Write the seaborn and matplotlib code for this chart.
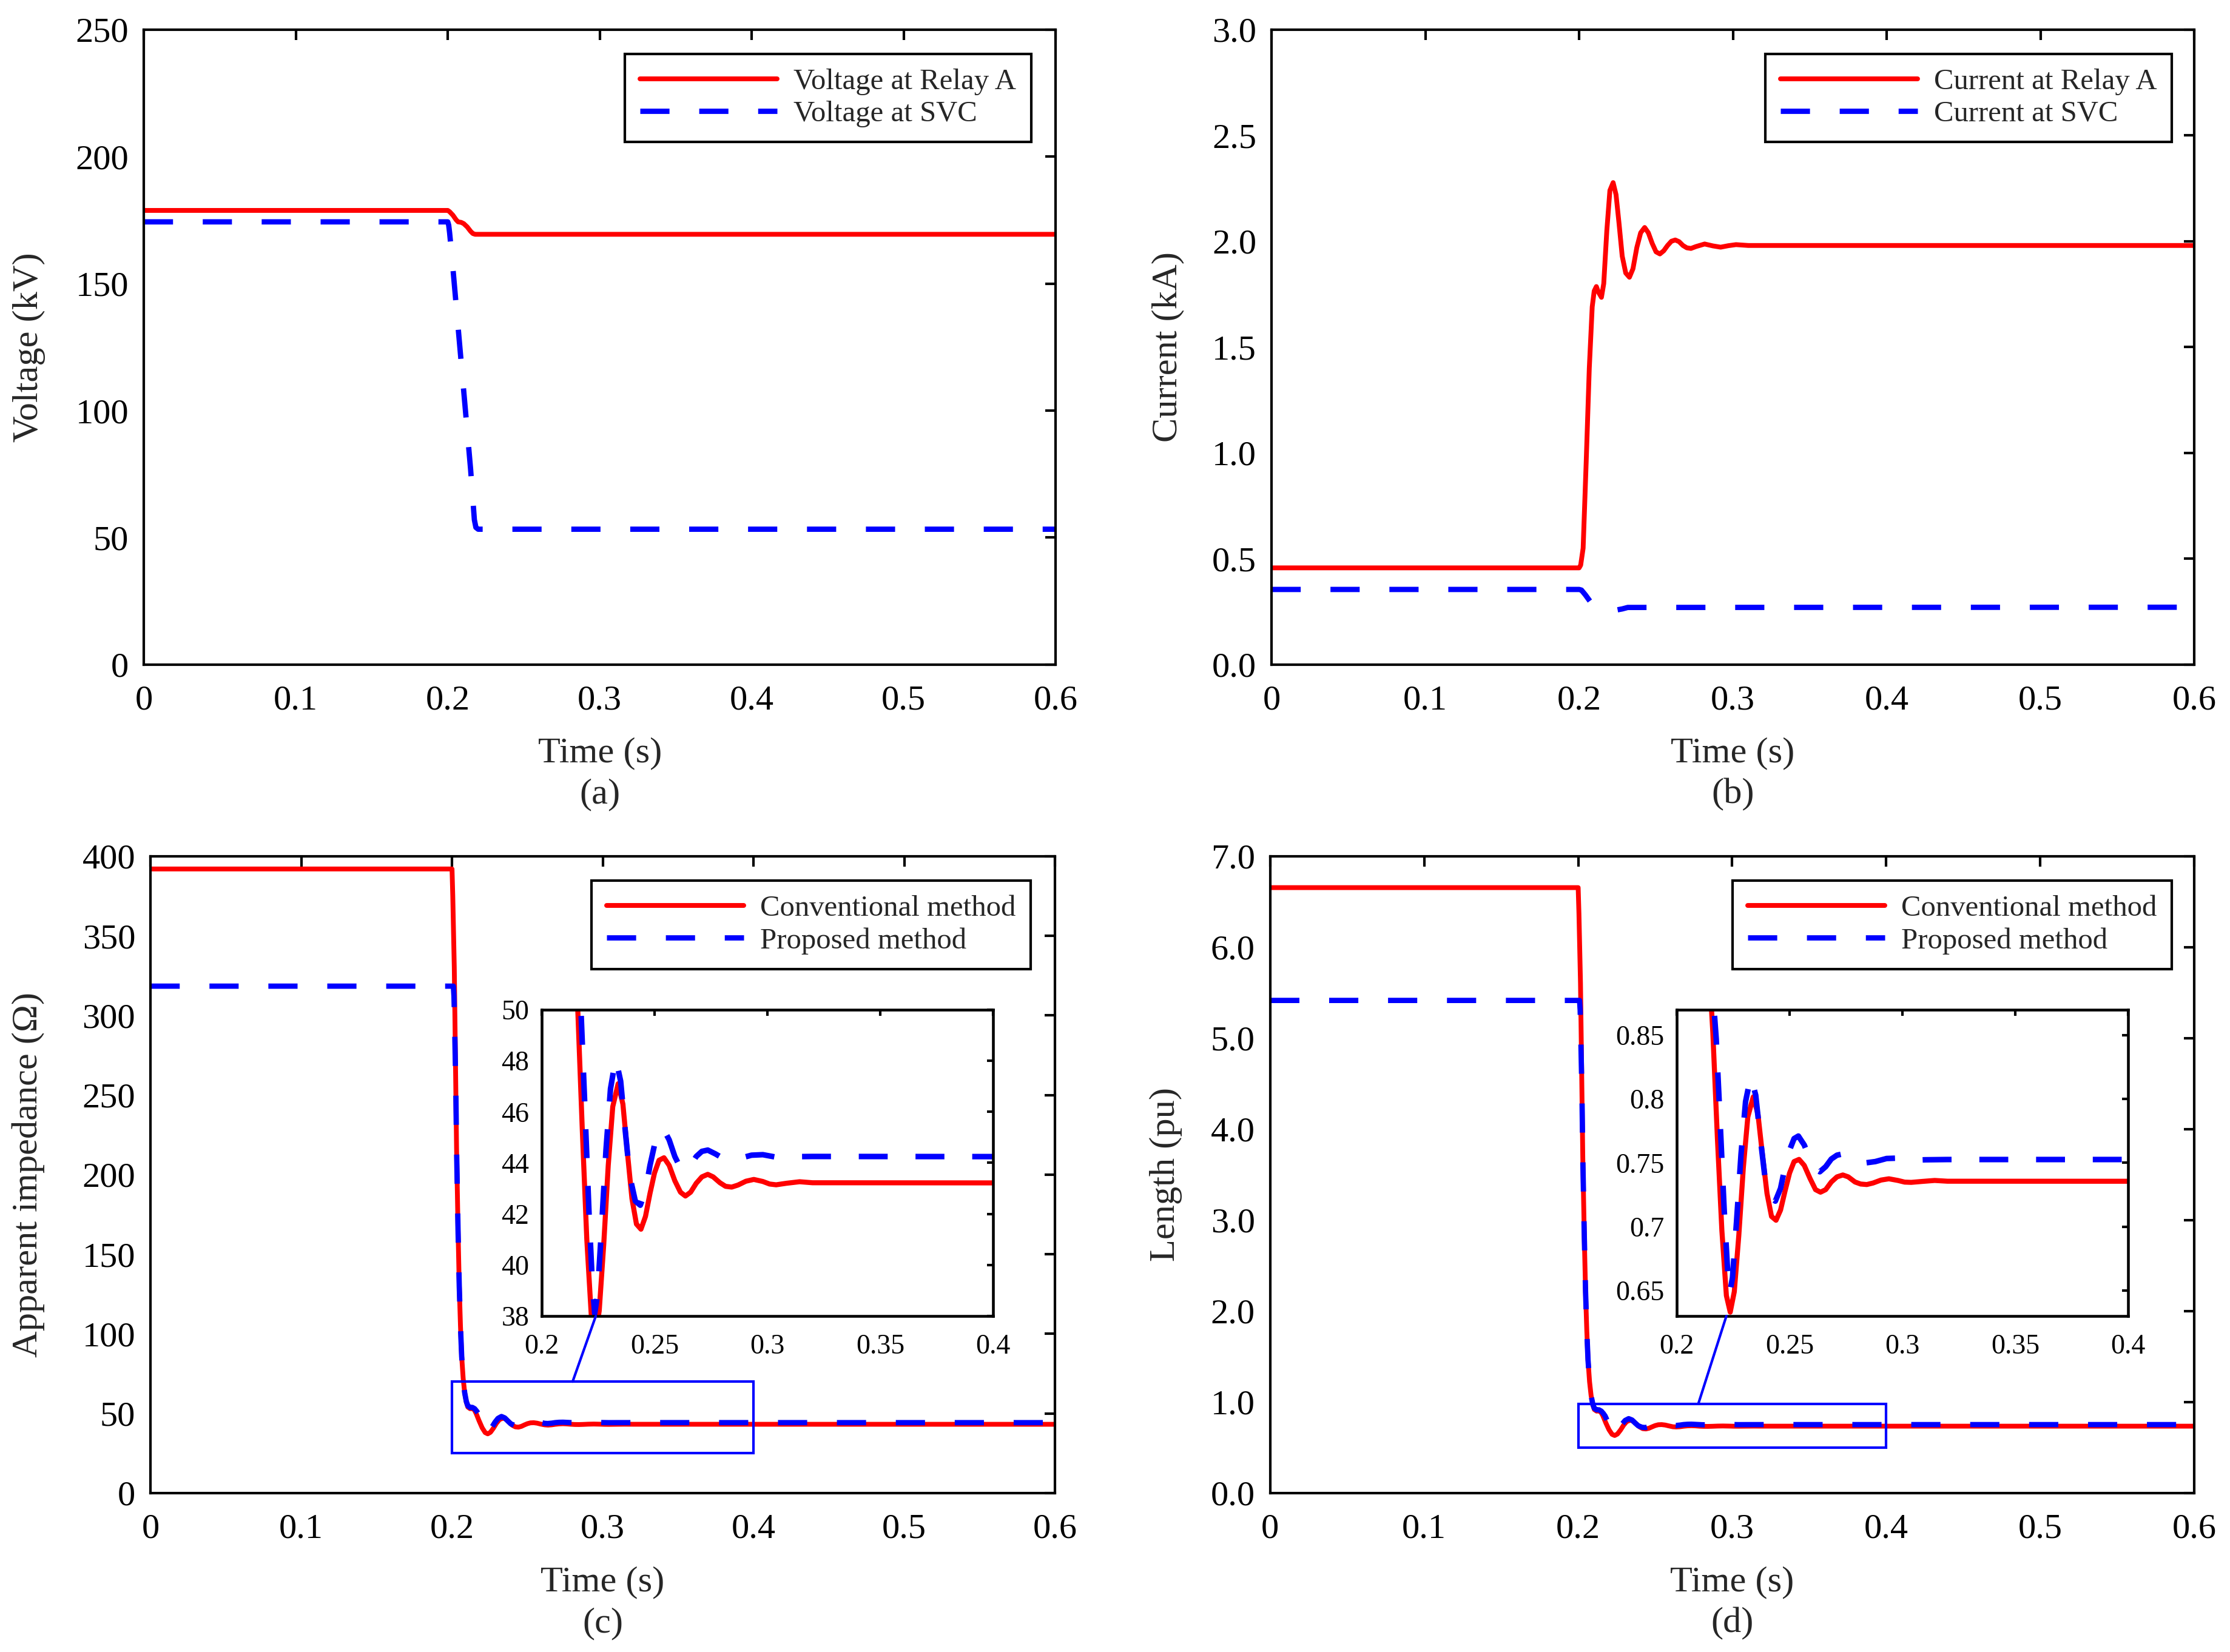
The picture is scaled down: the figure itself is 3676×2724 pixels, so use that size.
import matplotlib
matplotlib.use("Agg")
import matplotlib.pyplot as plt
import seaborn as sns
from matplotlib.patches import Rectangle, ConnectionPatch

# ---------------- data ----------------
# (a) voltages (kV)
t_relay_v = [0.0, 0.2, 0.2012, 0.2034, 0.2055, 0.2068, 0.2088, 0.2105, 0.2128, 0.2150, 0.2165, 0.2180, 0.6]
v_relay = [178.8, 178.8, 178.3, 176.9, 175.1, 174.3, 174.1, 173.6, 172.3, 170.6, 169.7, 169.4, 169.4]
t_svc_v = [0.0, 0.2, 0.2006, 0.2012, 0.2025, 0.205, 0.21, 0.215, 0.2175, 0.2185, 0.22, 0.6]
v_svc = [174.3, 174.3, 173.0, 170.0, 162.0, 145.0, 111.0, 77.0, 57.0, 54.0, 53.3, 53.3]

# (b) currents (kA)
t_relay_i = [0.0, 0.2, 0.201, 0.2026, 0.2046, 0.2066, 0.2085, 0.2098, 0.2112, 0.2125, 0.2145,
             0.216, 0.218, 0.220, 0.2221, 0.224, 0.226, 0.228, 0.2303, 0.2327, 0.235, 0.2375,
             0.240, 0.2426, 0.245, 0.2475, 0.250, 0.2525, 0.255, 0.2575, 0.260, 0.2625, 0.265,
             0.2675, 0.270, 0.2727, 0.276, 0.2816, 0.287, 0.292, 0.297, 0.302, 0.31, 0.6]
i_relay = [0.457, 0.457, 0.47, 0.55, 0.96, 1.40, 1.69, 1.765, 1.786, 1.76, 1.735,
           1.80, 2.05, 2.24, 2.277, 2.22, 2.08, 1.93, 1.85, 1.83, 1.87, 1.97,
           2.04, 2.065, 2.04, 1.99, 1.95, 1.94, 1.955, 1.98, 2.0, 2.006, 1.998,
           1.98, 1.969, 1.966, 1.975, 1.987, 1.978, 1.972, 1.979, 1.984, 1.980, 1.980]
t_svc_i = [0.0, 0.2, 0.2015, 0.204, 0.207, 0.210, 0.2145, 0.219, 0.2236, 0.228, 0.2316, 0.6]
i_svc = [0.355, 0.355, 0.352, 0.33, 0.30, 0.285, 0.275, 0.262, 0.257, 0.263, 0.270, 0.271]

# (c)/(d) conventional method
t_conv = [0.0, 0.2, 0.2005, 0.2015, 0.2025, 0.203, 0.204, 0.2048, 0.2056, 0.2064, 0.2074, 0.2084,
          0.2095, 0.2105, 0.212, 0.2135, 0.2148, 0.216, 0.218, 0.220, 0.222, 0.2237, 0.2255,
          0.2275, 0.2295, 0.2315, 0.2339, 0.236, 0.238, 0.240, 0.242, 0.244, 0.246, 0.248,
          0.250, 0.252, 0.2542, 0.2565, 0.259, 0.2615, 0.2637, 0.266, 0.2685, 0.271, 0.2736,
          0.276, 0.279, 0.2815, 0.2842, 0.287, 0.2905, 0.294, 0.298, 0.301, 0.3039, 0.3085,
          0.3143, 0.320, 0.6]
z_conv = [392, 392, 375, 330, 255, 217, 165, 130, 105, 86, 72, 63,
          57, 54, 53, 53.2, 52.3, 50, 45.3, 41.0, 38.0, 37.2, 38.2,
          40.8, 43.9, 46.2, 47.1, 46.3, 44.4, 42.6, 41.6, 41.4, 41.9, 42.8,
          43.6, 44.1, 44.2, 43.9, 43.3, 42.85, 42.7, 42.85, 43.2, 43.45, 43.55,
          43.45, 43.22, 43.08, 43.05, 43.13, 43.28, 43.35, 43.27, 43.17, 43.14, 43.2,
          43.26, 43.22, 43.2]
l_conv = [6.655, 6.655, 6.372, 5.607, 4.333, 3.687, 2.804, 2.209, 1.784, 1.461, 1.223, 1.071,
          0.969, 0.918, 0.901, 0.904, 0.889, 0.852, 0.770, 0.697, 0.646, 0.633, 0.649,
          0.693, 0.746, 0.786, 0.8017, 0.788, 0.756, 0.726, 0.708, 0.705, 0.713, 0.728,
          0.742, 0.751, 0.7527, 0.748, 0.738, 0.729, 0.727, 0.729, 0.735, 0.739, 0.7405,
          0.739, 0.735, 0.7334, 0.733, 0.7342, 0.7365, 0.7375, 0.7362, 0.7349, 0.7347, 0.7354,
          0.7362, 0.7356, 0.7355]

# (c)/(d) proposed method
t_prop = [0.0, 0.2009, 0.2013, 0.2018, 0.2025, 0.203, 0.204, 0.2048, 0.2056, 0.2064, 0.2074,
          0.2084, 0.2095, 0.2105, 0.212, 0.2135, 0.2150, 0.2163, 0.2175, 0.219, 0.221, 0.2225,
          0.2235, 0.2247, 0.2265, 0.2285, 0.2305, 0.2328, 0.235, 0.237, 0.239, 0.2415, 0.2437,
          0.246, 0.248, 0.250, 0.252, 0.2539, 0.2565, 0.259, 0.2615, 0.2634, 0.266, 0.2685,
          0.271, 0.2736, 0.277, 0.2805, 0.2838, 0.288, 0.293, 0.298, 0.304, 0.31, 0.32, 0.6]
z_prop = [318.4, 318.4, 312, 290, 255, 217, 165, 130, 105, 86, 72,
          63, 57.5, 54.8, 53.8, 53.8, 53.0, 51.5, 49.8, 46.5, 42.0, 39.2,
          38.1, 38.8, 41.4, 44.5, 46.9, 48.1, 47.2, 45.3, 43.5, 42.5, 42.34,
          42.9, 43.9, 44.7, 45.2, 45.34, 44.9, 44.25, 43.8, 43.69, 43.9, 44.25,
          44.45, 44.5, 44.35, 44.17, 44.1, 44.18, 44.3, 44.32, 44.22, 44.24, 44.25, 44.23]
l_prop = [5.415, 5.415, 5.306, 4.932, 4.337, 3.690, 2.806, 2.211, 1.786, 1.463, 1.224,
          1.071, 0.978, 0.932, 0.915, 0.915, 0.901, 0.876, 0.847, 0.791, 0.714, 0.667,
          0.648, 0.660, 0.704, 0.757, 0.798, 0.818, 0.803, 0.770, 0.740, 0.723, 0.720,
          0.730, 0.747, 0.760, 0.769, 0.771, 0.764, 0.753, 0.745, 0.743, 0.747, 0.753,
          0.756, 0.757, 0.754, 0.751, 0.750, 0.751, 0.7534, 0.7537, 0.752, 0.7524, 0.7526, 0.7526]

# ticks
time_ticks = [0, 0.1, 0.2, 0.3, 0.4, 0.5, 0.6]
time_labels = ["0", "0.1", "0.2", "0.3", "0.4", "0.5", "0.6"]
volt_ticks = [0, 50, 100, 150, 200, 250]
curr_ticks = [0.0, 0.5, 1.0, 1.5, 2.0, 2.5, 3.0]
imp_ticks = [0, 50, 100, 150, 200, 250, 300, 350, 400]
len_ticks = [0.0, 1.0, 2.0, 3.0, 4.0, 5.0, 6.0, 7.0]
zoom_t_ticks = [0.2, 0.25, 0.3, 0.35, 0.4]
zoom_t_labels = ["0.2", "0.25", "0.3", "0.35", "0.4"]
zoom_imp_ticks = [38, 40, 42, 44, 46, 48, 50]
zoom_len_ticks = [0.65, 0.7, 0.75, 0.8, 0.85]
zoom_len_labels = ["0.65", "0.7", "0.75", "0.8", "0.85"]

# ---------------- style ----------------
sns.set_theme(style="white")
plt.rcParams["font.family"] = ["Liberation Serif", "DejaVu Serif"]
plt.rcParams["axes.edgecolor"] = "black"
plt.rcParams["axes.linewidth"] = 1.0

RED = "#ff0000"
BLUE = "#0000ff"
LW_RED, LW_BLUE = 1.9, 2.1
DASH_MAIN = (0, (5.5, 5.6))
DASH_ZOOM = (0, (5.2, 5.0))

fig = plt.figure(figsize=(3676 / 300, 2724 / 300), dpi=300)
ax_a = fig.add_axes([0.0645, 0.5977, 0.4089, 0.3844])
ax_b = fig.add_axes([0.5702, 0.5977, 0.4138, 0.3844])
ax_c = fig.add_axes([0.0675, 0.0962, 0.4056, 0.3855])
ax_d = fig.add_axes([0.5696, 0.0962, 0.4143, 0.3855])


def style_main(ax, yticks, ylabels, ylim, ylabel, ylab_x, tag):
    ax.set_xlim(0, 0.6)
    ax.set_ylim(*ylim)
    ax.set_xticks(time_ticks, time_labels)
    ax.set_yticks(yticks, ylabels)
    ax.tick_params(direction="in", top=True, right=True, length=4, width=1.0,
                   labelsize=14, colors="black")
    ax.tick_params(axis="x", pad=8)
    ax.tick_params(axis="y", pad=6)
    for s in ax.spines.values():
        s.set_linewidth(1.0)
        s.set_color("black")
    ax.set_xlabel("Time (s)", fontsize=14.5)
    ax.xaxis.set_label_coords(0.5, -0.14)
    ax.xaxis.label.set_va("center")
    ax.set_ylabel(ylabel, fontsize=14.5)
    ax.yaxis.set_label_coords(ylab_x, 0.5)
    ax.yaxis.label.set_va("center")
    ax.text(0.5, -0.205, tag, transform=ax.transAxes, ha="center", va="center", fontsize=14.5)


def add_legend(ax, x_anchor):
    leg = ax.legend(loc="upper right", bbox_to_anchor=(x_anchor, 0.962), borderaxespad=0,
                    frameon=True, fancybox=False, framealpha=1, edgecolor="black",
                    fontsize=11.7, handlelength=4.65, handletextpad=0.55, labelspacing=0.18,
                    borderpad=0.5)
    leg.get_frame().set_linewidth(1.0)


def style_zoom(ax, yticks, ylabels, ylim):
    ax.set_xlim(0.2, 0.4)
    ax.set_ylim(*ylim)
    ax.set_xticks(zoom_t_ticks, zoom_t_labels)
    ax.set_yticks(yticks, ylabels)
    ax.tick_params(direction="in", top=True, right=True, length=2.5, width=1.0,
                   labelsize=11, colors="black")
    ax.tick_params(axis="x", pad=7)
    ax.tick_params(axis="y", pad=5)
    for s in ax.spines.values():
        s.set_linewidth(1.1)
        s.set_color("black")
    ax.set_xlabel("")
    ax.set_ylabel("")


# (a)
sns.lineplot(x=t_relay_v, y=v_relay, ax=ax_a, color=RED, lw=LW_RED, label="Voltage at Relay A",
             estimator=None, sort=False)
sns.lineplot(x=t_svc_v, y=v_svc, ax=ax_a, color=BLUE, lw=LW_BLUE, linestyle=DASH_MAIN,
             label="Voltage at SVC", estimator=None, sort=False)
style_main(ax_a, volt_ticks, [str(v) for v in volt_ticks], (0, 250), "Voltage (kV)", -0.126, "(a)")
add_legend(ax_a, 0.973)

# (b)
sns.lineplot(x=t_relay_i, y=i_relay, ax=ax_b, color=RED, lw=LW_RED, label="Current at Relay A",
             estimator=None, sort=False)
sns.lineplot(x=t_svc_i, y=i_svc, ax=ax_b, color=BLUE, lw=LW_BLUE, linestyle=DASH_MAIN,
             label="Current at SVC", estimator=None, sort=False)
style_main(ax_b, curr_ticks, [f"{v:.1f}" for v in curr_ticks], (0, 3.0), "Current (kA)", -0.112, "(b)")
add_legend(ax_b, 0.9757)

# (c)
sns.lineplot(x=t_conv, y=z_conv, ax=ax_c, color=RED, lw=LW_RED, label="Conventional method",
             estimator=None, sort=False)
sns.lineplot(x=t_prop, y=z_prop, ax=ax_c, color=BLUE, lw=LW_BLUE, linestyle=DASH_MAIN,
             label="Proposed method", estimator=None, sort=False)
style_main(ax_c, imp_ticks, [str(v) for v in imp_ticks], (0, 400),
           "Apparent impedance (\u03a9)", -0.135, "(c)")
add_legend(ax_c, 0.973)

# (d)
sns.lineplot(x=t_conv, y=l_conv, ax=ax_d, color=RED, lw=LW_RED, label="Conventional method",
             estimator=None, sort=False)
sns.lineplot(x=t_prop, y=l_prop, ax=ax_d, color=BLUE, lw=LW_BLUE, linestyle=DASH_MAIN,
             label="Proposed method", estimator=None, sort=False)
style_main(ax_d, len_ticks, [f"{v:.1f}" for v in len_ticks], (0, 7.0), "Length (pu)", -0.113, "(d)")
add_legend(ax_d, 0.9757)

# zoom boxes
ax_c.add_patch(Rectangle((0.2, 25), 0.2, 45, fill=False, edgecolor=BLUE, lw=1.0, zorder=5))
ax_d.add_patch(Rectangle((0.2, 0.5), 0.2, 0.48, fill=False, edgecolor=BLUE, lw=1.0, zorder=5))

in_c = fig.add_axes([0.2429, 0.2034, 0.2024, 0.1854])
in_d = fig.add_axes([0.7519, 0.2034, 0.2024, 0.1854])

sns.lineplot(x=t_conv, y=z_conv, ax=in_c, color=RED, lw=2.0, estimator=None, sort=False)
sns.lineplot(x=t_prop, y=z_prop, ax=in_c, color=BLUE, lw=2.2, linestyle=DASH_ZOOM,
             estimator=None, sort=False)
style_zoom(in_c, zoom_imp_ticks, [str(v) for v in zoom_imp_ticks], (38, 50))

sns.lineplot(x=t_conv, y=l_conv, ax=in_d, color=RED, lw=2.0, estimator=None, sort=False)
sns.lineplot(x=t_prop, y=l_prop, ax=in_d, color=BLUE, lw=2.2, linestyle=DASH_ZOOM,
             estimator=None, sort=False)
style_zoom(in_d, zoom_len_ticks, zoom_len_labels, (0.63, 0.87))

for ax in (in_c, in_d):
    if ax.get_legend() is not None:
        ax.get_legend().remove()

con_c = ConnectionPatch(xyA=(0.28, 70), coordsA=ax_c.transData, xyB=(0.224, 38),
                        coordsB=in_c.transData, color=BLUE, lw=1.0)
con_d = ConnectionPatch(xyA=(0.278, 0.98), coordsA=ax_d.transData, xyB=(0.222, 0.63),
                        coordsB=in_d.transData, color=BLUE, lw=1.0)
fig.add_artist(con_c)
fig.add_artist(con_d)

fig.savefig("out.png", dpi=300, facecolor="white")
